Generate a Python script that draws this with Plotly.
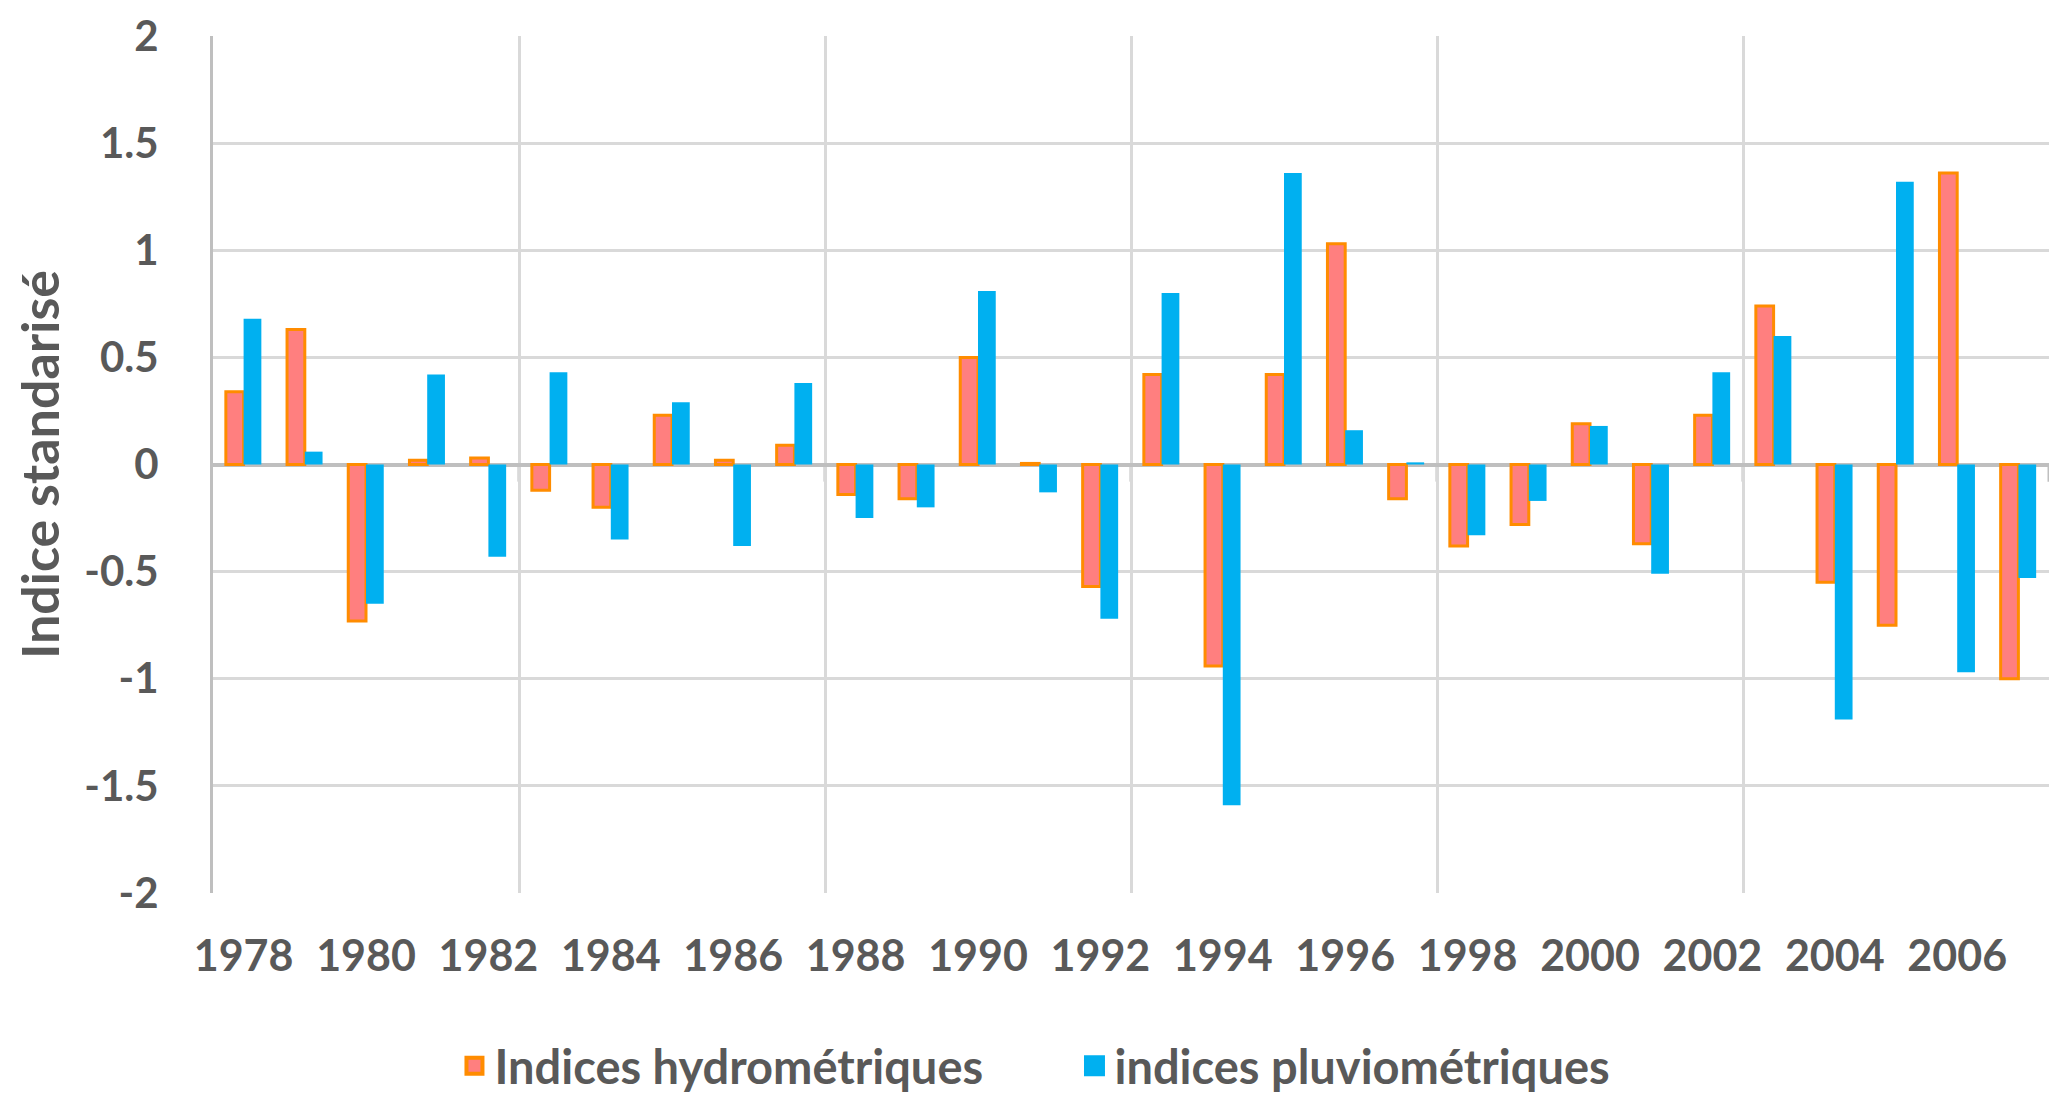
import plotly.graph_objects as go

years = list(range(1978, 2008))
hydro = [0.34, 0.63, -0.73, 0.02, 0.03, -0.12, -0.20, 0.23, 0.02, 0.09,
         -0.14, -0.16, 0.50, 0.005, -0.57, 0.42, -0.94, 0.42, 1.03, -0.16,
         -0.38, -0.28, 0.19, -0.37, 0.23, 0.74, -0.55, -0.75, 1.36, -1.00]
pluvio = [0.68, 0.06, -0.65, 0.42, -0.43, 0.43, -0.35, 0.29, -0.38, 0.38,
          -0.25, -0.20, 0.81, -0.13, -0.72, 0.80, -1.59, 1.36, 0.16, 0.01,
          -0.33, -0.17, 0.18, -0.51, 0.43, 0.60, -1.19, 1.32, -0.97, -0.53]
x_tick_years = list(range(1978, 2007, 2))
y_ticks = [2, 1.5, 1, 0.5, 0, -0.5, -1, -1.5, -2]
y_tick_text = ["2", "1.5", "1", "0.5", "0", "-0.5", "-1", "-1.5", "-2"]
grid_bounds = [1977.5, 1982.5, 1987.5, 1992.5, 1997.5, 2002.5, 2007.5]

TEXT = "#595959"
FONT = "Lato"
SALMON = "#FF7F7F"
ORANGE = "#FF8C00"
BLUE = "#00B0F0"

fig = go.Figure()
fig.add_trace(go.Bar(
    x=years, y=hydro, name="Indices hydrométriques", showlegend=False,
    marker=dict(color=SALMON, line=dict(color=ORANGE, width=3)),
))
fig.add_trace(go.Bar(
    x=years, y=pluvio, name="indices pluviométriques", showlegend=False,
    marker=dict(color=BLUE, line=dict(width=0)),
))
# legend-only entries with larger square symbols
fig.add_trace(go.Scatter(
    x=[None], y=[None], mode="markers", name="Indices hydrométriques",
    marker=dict(symbol="square", size=16, color=SALMON, line=dict(color=ORANGE, width=4)),
))
fig.add_trace(go.Scatter(
    x=[None], y=[None], mode="markers", name="indices pluviométriques",
    marker=dict(symbol="square", size=16, color=BLUE, line=dict(color=BLUE, width=5)),
))

# small tick marks crossing the zero axis at the category group boundaries
for gb in grid_bounds[1:]:
    fig.add_shape(type="line", xref="x", yref="y", x0=gb, x1=gb, y0=0, y1=-0.08,
                  line=dict(color="#BFBFBF", width=3), layer="below")

fig.update_layout(
    width=2067, height=1108,
    margin=dict(l=205, r=26, t=28, b=223, autoexpand=False),
    paper_bgcolor="white", plot_bgcolor="white",
    barmode="group", bargap=0.42, bargroupgap=0,
    font=dict(family=FONT, color=TEXT, size=44),
    showlegend=True,
    legend=dict(orientation="h", x=0.216, xanchor="left", xref="container",
                y=0.045, yanchor="middle", yref="container",
                font=dict(family=FONT, size=47, color=TEXT, weight="bold"),
                itemsizing="trace", itemwidth=30,
                entrywidthmode="pixels", entrywidth=575),
)
fig.update_xaxes(
    range=[1977.5, 2007.5], tickmode="array", tickvals=x_tick_years,
    ticktext=[str(v) for v in x_tick_years],
    tickfont=dict(family=FONT, size=43, color=TEXT, weight="bold"),
    showgrid=False, zeroline=False, showline=False, ticks="",
    ticklabelstandoff=34, ticklabeloverflow="allow", automargin=False,
    minor=dict(tickmode="array", tickvals=grid_bounds, showgrid=True,
               gridcolor="#D9D9D9", gridwidth=3, ticks=""),
)
fig.update_yaxes(
    range=[-2, 2], tickmode="array", tickvals=y_ticks, ticktext=y_tick_text,
    tickfont=dict(family=FONT, size=42, color=TEXT, weight="bold"),
    showgrid=True, gridcolor="#D9D9D9", gridwidth=3,
    zeroline=True, zerolinecolor="#BFBFBF", zerolinewidth=4,
    showline=True, linecolor="#BFBFBF", linewidth=3,
    ticks="", ticklabelstandoff=43, ticklabeloverflow="allow", automargin=False,
    title=dict(text="Indice standarisé", standoff=28,
               font=dict(family=FONT, size=52, color=TEXT, weight="bold")),
)

fig.write_html("out.html")
